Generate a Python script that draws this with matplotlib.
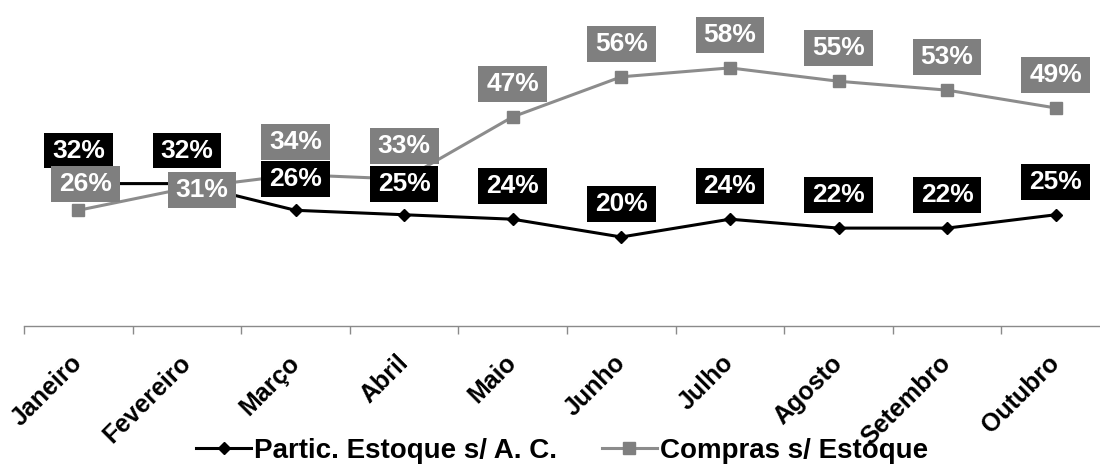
import matplotlib
matplotlib.use("Agg")
import matplotlib.pyplot as plt
from matplotlib.path import Path

# Monthly indicators (%)
months = ["Janeiro", "Fevereiro", "Março", "Abril", "Maio",
          "Junho", "Julho", "Agosto", "Setembro", "Outubro"]
partic_estoque = [32, 32, 26, 25, 24, 20, 24, 22, 22, 25]
compras_estoque = [26, 31, 34, 33, 47, 56, 58, 55, 53, 49]

series_names = ["Partic. Estoque s/ A. C.", "Compras s/ Estoque"]

# Label placement (pixels, relative to the point); defaults sit above the marker
LABEL_DY = 33
black_label_shift = {2: (0, 31), 3: (0, 31)}
gray_label_shift = {0: (7, 26), 1: (15, -2)}

BLACK = "#000000"
GRAY_LINE = "#8c8c8c"
GRAY_BOX = "#7f7f7f"
AXIS_GRAY = "#8a8a8a"

plt.rcParams["font.family"] = ["Liberation Sans", "DejaVu Sans"]
plt.rcParams["font.weight"] = "bold"

fig = plt.figure(figsize=(11, 4.65), dpi=100)
fig.patch.set_facecolor("white")
ax = fig.add_axes([24 / 1100, 139 / 465, 1086 / 1100, 311.5 / 465])

x = list(range(len(months)))
l1, = ax.plot(x, partic_estoque, color=BLACK, lw=2.2, marker="D",
              markersize=6.5, zorder=3, label=series_names[0])
l2, = ax.plot(x, compras_estoque, color=GRAY_LINE, lw=2.2, marker="s",
              markersize=8.5, markerfacecolor=GRAY_BOX,
              markeredgecolor=GRAY_BOX, zorder=4, label=series_names[1])

ax.set_xlim(-0.5, len(months) - 0.5)
ax.set_ylim(0, 70)


def label_box(x0, y0, width, height, mutation_size):
    padx = 0.30 * mutation_size
    pady = 0.22 * mutation_size
    xa, xb = x0 - padx, x0 + width + padx
    ya, yb = y0 - pady, y0 + height + pady
    return Path([(xa, ya), (xb, ya), (xb, yb), (xa, yb), (xa, ya)],
                [Path.MOVETO, Path.LINETO, Path.LINETO, Path.LINETO,
                 Path.CLOSEPOLY])


def add_labels(values, facecolor, shifts, z):
    for i, v in enumerate(values):
        dx, dy = shifts.get(i, (0, LABEL_DY))
        ax.annotate(f"{v}%", xy=(i, v), xytext=(dx, dy),
                    textcoords="offset pixels", ha="center", va="center",
                    fontsize=19, fontweight="bold", color="white",
                    bbox=dict(boxstyle=label_box, facecolor=facecolor,
                              edgecolor="none"),
                    zorder=z, annotation_clip=False)


add_labels(partic_estoque, BLACK, black_label_shift, 5)
add_labels(compras_estoque, GRAY_BOX, gray_label_shift, 6)

# Axes styling: only the category axis is shown
for side in ("left", "right", "top"):
    ax.spines[side].set_visible(False)
ax.spines["bottom"].set_color(AXIS_GRAY)
ax.spines["bottom"].set_linewidth(1.0)
ax.set_yticks([])

ax.set_xticks(x)
ax.set_xticks([i - 0.5 for i in range(len(months) + 1)], minor=True)
ax.tick_params(axis="x", which="major", length=0, pad=24)
ax.tick_params(axis="x", which="minor", length=6, width=1.0,
               color=AXIS_GRAY, direction="out")
ax.set_xticklabels(months, rotation=45, ha="right", va="center",
                   rotation_mode="anchor", fontsize=18, fontweight="bold")

leg = fig.legend(handles=[l1, l2], loc="center", ncol=2,
                 bbox_to_anchor=(562 / 1100, 1 - 451 / 465),
                 frameon=False, fontsize=20, handlelength=2.0,
                 handletextpad=0.1, columnspacing=1.6, markerscale=1.0)
for t in leg.get_texts():
    t.set_fontweight("bold")

fig.savefig("out.png", dpi=100, facecolor="white")
